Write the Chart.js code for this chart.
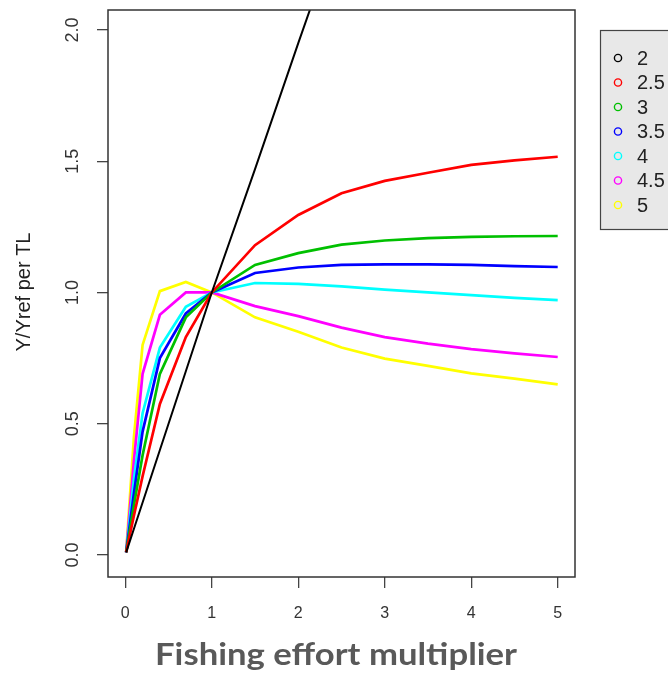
<!DOCTYPE html>
<html>
<head>
<meta charset="utf-8">
<script src="https://cdn.jsdelivr.net/npm/chart.js@4/dist/chart.umd.min.js"></script>
<style>
html,body{margin:0;padding:0;background:#fff;}
#wrap{width:668px;height:673px;position:relative;}
</style>
</head>
<body>
<div id="wrap"><canvas id="c" width="668" height="673"></canvas></div>
<script>
// ---- data ----
const effort = [0.01, 0.1, 0.2, 0.4, 0.7, 1, 1.5, 2, 2.5, 3, 3.5, 4, 4.5, 5];
const seriesNames = ["2", "2.5", "3", "3.5", "4", "4.5", "5"];
const tl2   = [0.01, 0.1, 0.2, 0.4, 0.7, 1, 1.47, 1.95, 2.42, 2.88, 3.33, 3.78, 4.22, 4.65];
const tl2_5 = [0.01, 0.15, 0.3, 0.575, 0.83, 1, 1.18, 1.295, 1.378, 1.425, 1.456, 1.486, 1.503, 1.517];
const tl3   = [0.01, 0.19, 0.38, 0.69, 0.905, 1, 1.105, 1.15, 1.182, 1.198, 1.207, 1.212, 1.214, 1.215];
const tl3_5 = [0.01, 0.235, 0.47, 0.75, 0.92, 1, 1.074, 1.095, 1.105, 1.107, 1.107, 1.105, 1.1, 1.097];
const tl4   = [0.01, 0.29, 0.54, 0.79, 0.945, 1, 1.036, 1.033, 1.023, 1.011, 1.0, 0.99, 0.979, 0.971];
const tl4_5 = [0.01, 0.36, 0.69, 0.915, 1.0, 1, 0.948, 0.91, 0.866, 0.83, 0.805, 0.784, 0.768, 0.754];
const tl5   = [0.01, 0.45, 0.8, 1.005, 1.04, 1, 0.905, 0.85, 0.79, 0.748, 0.72, 0.692, 0.672, 0.65];
const xTicks = [0, 1, 2, 3, 4, 5];
const yTicks = [0, 0.5, 1, 1.5, 2];
const xTitle = "Fishing effort multiplier";
const yTitle = "Y/Yref per TL";

const allSeries = [tl2, tl2_5, tl3, tl3_5, tl4, tl4_5, tl5];
const colors = ["#000000", "#ff0000", "#00c000", "#0000ff", "#00ffff", "#ff00ff", "#ffff00"];
const widths = [2, 2.7, 2.7, 2.7, 2.7, 2.7, 2.7];

const datasets = allSeries.map((s, i) => ({
  label: seriesNames[i],
  data: s.map((v, j) => ({x: effort[j], y: v})),
  borderColor: colors[i],
  backgroundColor: colors[i],
  borderWidth: widths[i],
  pointRadius: 0,
  tension: 0,
  fill: false
}));

const decorPlugin = {
  id: 'decor',
  afterDraw(chart) {
    const ctx = chart.ctx;
    const a = chart.chartArea;
    const ys = chart.scales.y;
    ctx.save();
    // frame
    ctx.strokeStyle = '#333';
    ctx.lineWidth = 1.5;
    ctx.strokeRect(a.left, a.top, a.right - a.left, a.bottom - a.top);
    // y tick labels (rotated)
    ctx.fillStyle = '#333';
    ctx.font = '18px "Liberation Sans", Arial, sans-serif';
    ctx.textAlign = 'center';
    ctx.textBaseline = 'middle';
    yTicks.forEach(v => {
      const py = ys.getPixelForValue(v);
      ctx.save();
      ctx.translate(73, py);
      ctx.rotate(-Math.PI / 2);
      ctx.fillText(v.toFixed(1), 0, 0);
      ctx.restore();
    });
    // y title
    ctx.save();
    ctx.font = '20px "Liberation Sans", Arial, sans-serif';
    ctx.fillStyle = '#222';
    ctx.translate(24, 292);
    ctx.rotate(-Math.PI / 2);
    ctx.fillText(yTitle, 0, 0);
    ctx.restore();
    // x title
    ctx.save();
    ctx.font = 'bold 31px Lato, "Open Sans", sans-serif';
    ctx.fillStyle = '#595959';
    ctx.textAlign = 'center';
    ctx.textBaseline = 'alphabetic';
    const w = ctx.measureText(xTitle).width;
    const sx = 362 / w;
    ctx.translate(336, 665);
    ctx.scale(sx, 1);
    ctx.fillText(xTitle, 0, 0);
    ctx.restore();
    // legend
    ctx.fillStyle = '#e8e8e8';
    ctx.fillRect(600, 30, 80, 199);
    ctx.strokeStyle = '#444';
    ctx.lineWidth = 1.2;
    ctx.strokeRect(600.5, 30.5, 80, 199);
    ctx.font = '20px "Liberation Sans", Arial, sans-serif';
    ctx.textAlign = 'left';
    ctx.textBaseline = 'middle';
    seriesNames.forEach((n, i) => {
      const cy = 58 + i * 24.5;
      ctx.beginPath();
      ctx.arc(618, cy, 3.6, 0, Math.PI * 2);
      ctx.strokeStyle = colors[i];
      ctx.lineWidth = 1.4;
      ctx.stroke();
      ctx.fillStyle = '#222';
      ctx.fillText(n, 637, cy + 1);
    });
    ctx.restore();
  }
};

new Chart(document.getElementById('c'), {
  type: 'line',
  data: {datasets},
  options: {
    responsive: false,
    animation: false,
    devicePixelRatio: 1,
    layout: {padding: {left: 0, right: 93, top: 10, bottom: 0}},
    plugins: {legend: {display: false}, tooltip: {enabled: false}},
    scales: {
      x: {
        type: 'linear',
        min: -0.2, max: 5.2,
        afterBuildTicks(s) { s.ticks = xTicks.map(v => ({value: v})); },
        afterFit(s) { s.height = 96; },
        grid: {drawOnChartArea: false, drawTicks: true, tickLength: 11, color: '#444', lineWidth: 1.3},
        border: {display: false},
        ticks: {color: '#333', font: {size: 16, family: '"Liberation Sans", Arial, sans-serif'}, padding: 16, maxRotation: 0, autoSkip: false,
          callback: v => String(v)}
      },
      y: {
        type: 'linear',
        min: -0.084, max: 2.076,
        afterBuildTicks(s) { s.ticks = yTicks.map(v => ({value: v})); },
        afterFit(s) { s.width = 108; },
        grid: {drawOnChartArea: false, drawTicks: true, tickLength: 11, color: '#444', lineWidth: 1.3},
        border: {display: false},
        ticks: {display: false}
      }
    }
  },
  plugins: [decorPlugin]
});
</script>
</body>
</html>
